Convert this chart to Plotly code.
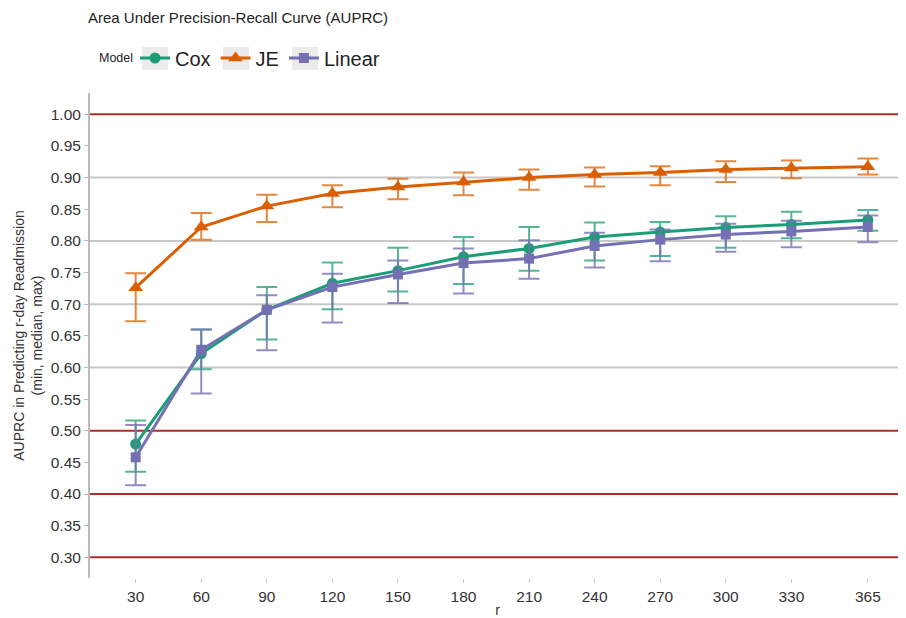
import plotly.graph_objects as go

r_days = [30, 60, 90, 120, 150, 180, 210, 240, 270, 300, 330, 365]

cox_median = [0.479, 0.622, 0.691, 0.733, 0.753, 0.775, 0.788, 0.806, 0.814, 0.821, 0.826, 0.833]
cox_min    = [0.435, 0.597, 0.644, 0.692, 0.720, 0.732, 0.753, 0.769, 0.776, 0.789, 0.804, 0.816]
cox_max    = [0.516, 0.660, 0.727, 0.766, 0.789, 0.806, 0.822, 0.829, 0.830, 0.839, 0.846, 0.849]

je_median = [0.726, 0.822, 0.855, 0.875, 0.885, 0.893, 0.900, 0.905, 0.908, 0.913, 0.915, 0.917]
je_min    = [0.673, 0.802, 0.830, 0.853, 0.866, 0.872, 0.881, 0.886, 0.888, 0.893, 0.899, 0.905]
je_max    = [0.749, 0.844, 0.873, 0.888, 0.898, 0.908, 0.913, 0.916, 0.918, 0.926, 0.927, 0.930]

lin_median = [0.458, 0.628, 0.691, 0.727, 0.747, 0.765, 0.772, 0.792, 0.802, 0.810, 0.815, 0.822]
lin_min    = [0.414, 0.559, 0.627, 0.671, 0.702, 0.717, 0.740, 0.758, 0.768, 0.783, 0.790, 0.798]
lin_max    = [0.509, 0.660, 0.714, 0.748, 0.769, 0.788, 0.801, 0.813, 0.818, 0.827, 0.832, 0.840]

y_ticks = [0.30, 0.35, 0.40, 0.45, 0.50, 0.55, 0.60, 0.65, 0.70, 0.75, 0.80, 0.85, 0.90, 0.95, 1.00]
grid_gray = [0.6, 0.7, 0.8, 0.9]
ref_red = [0.3, 0.4, 0.5, 1.0]

series = [
    ("Cox", cox_median, cox_min, cox_max, "#1b9e77", "rgba(27,158,119,0.75)", "circle", 11),
    ("JE", je_median, je_min, je_max, "#d95f02", "rgba(217,95,2,0.75)", "triangle-up", 13),
    ("Linear", lin_median, lin_min, lin_max, "#7570b3", "rgba(117,112,179,0.8)", "square", 10),
]

# page is rendered with an 8px body margin, so the figure is drawn 8px smaller
W, H = 898, 610
ML, MR, MT, MB = 82, 1, 85, 40
PW, PH = W - ML - MR, H - MT - MB

def px_x(fx):
    return (fx - ML) / PW

def px_y(fy):
    return (H - MB - fy) / PH

fig = go.Figure()
for name, med, lo, hi, col, ecol, sym, msize in series:
    fig.add_trace(go.Scatter(
        x=r_days, y=med, name=name, mode="lines+markers",
        line=dict(color=col, width=3),
        marker=dict(symbol=sym, size=msize, color=col),
        error_y=dict(type="data", symmetric=False,
                     array=[h - m for h, m in zip(hi, med)],
                     arrayminus=[m - l for m, l in zip(med, lo)],
                     color=ecol, thickness=2, width=10.5),
    ))

shapes = []
for g in grid_gray:
    shapes.append(dict(type="line", xref="paper", x0=0, x1=1, yref="y", y0=g, y1=g,
                       line=dict(color="#c8c8c8", width=2), layer="below"))
for g in ref_red:
    shapes.append(dict(type="line", xref="paper", x0=0, x1=1, yref="y", y0=g, y1=g,
                       line=dict(color="#a8302a", width=2), layer="below"))
# grey legend key backgrounds, centred on the legend symbols
for cx in [147, 228, 297]:
    shapes.append(dict(type="rect", xref="paper", yref="paper",
                       x0=px_x(cx - 13), x1=px_x(cx + 13), y0=px_y(62), y1=px_y(39),
                       fillcolor="#ebebeb", line=dict(width=0), layer="below"))

font_family = "Liberation Sans, Arial, sans-serif"

fig.update_layout(
    width=W, height=H,
    margin=dict(l=ML, r=MR, t=MT, b=MB),
    paper_bgcolor="white", plot_bgcolor="white",
    font=dict(family=font_family, color="#333333"),
    title=dict(text="Area Under Precision-Recall Curve (AUPRC)", x=80 / W, xanchor="left",
               y=1 - 10 / H, yanchor="middle", font=dict(size=15, color="#222222")),
    legend=dict(orientation="h", x=px_x(127), xanchor="left", y=px_y(50), yanchor="middle",
                font=dict(size=20, color="#222222"), itemwidth=30, bgcolor="rgba(0,0,0,0)"),
    annotations=[dict(text="Model", xref="paper", yref="paper", x=px_x(89), y=px_y(50),
                      xanchor="left", yanchor="middle", showarrow=False,
                      font=dict(size=12.5, color="#222222"))],
    shapes=shapes,
    xaxis=dict(range=[9.1, 382], tickmode="array", tickvals=r_days, ticktext=[str(v) for v in r_days],
               showgrid=False, zeroline=False, showline=False,
               ticks="outside", ticklen=4, tickcolor="#cccccc",
               tickfont=dict(size=15.5, color="#333333"),
               title=dict(text="r", font=dict(size=14, color="#333333"), standoff=1)),
    yaxis=dict(range=[0.2673, 1.0337], tickmode="array", tickvals=y_ticks,
               ticktext=["%.2f" % v for v in y_ticks],
               showgrid=False, zeroline=False, showline=True, linecolor="#bbbbbb", linewidth=2,
               ticks="outside", ticklen=4, tickcolor="#bbbbbb",
               tickfont=dict(size=15.5, color="#333333"),
               title=dict(text="AUPRC in Predicting r-day Readmission<br>(min, median, max)",
                          font=dict(size=14, color="#333333"), standoff=5)),
)

fig.write_html("out.html")
